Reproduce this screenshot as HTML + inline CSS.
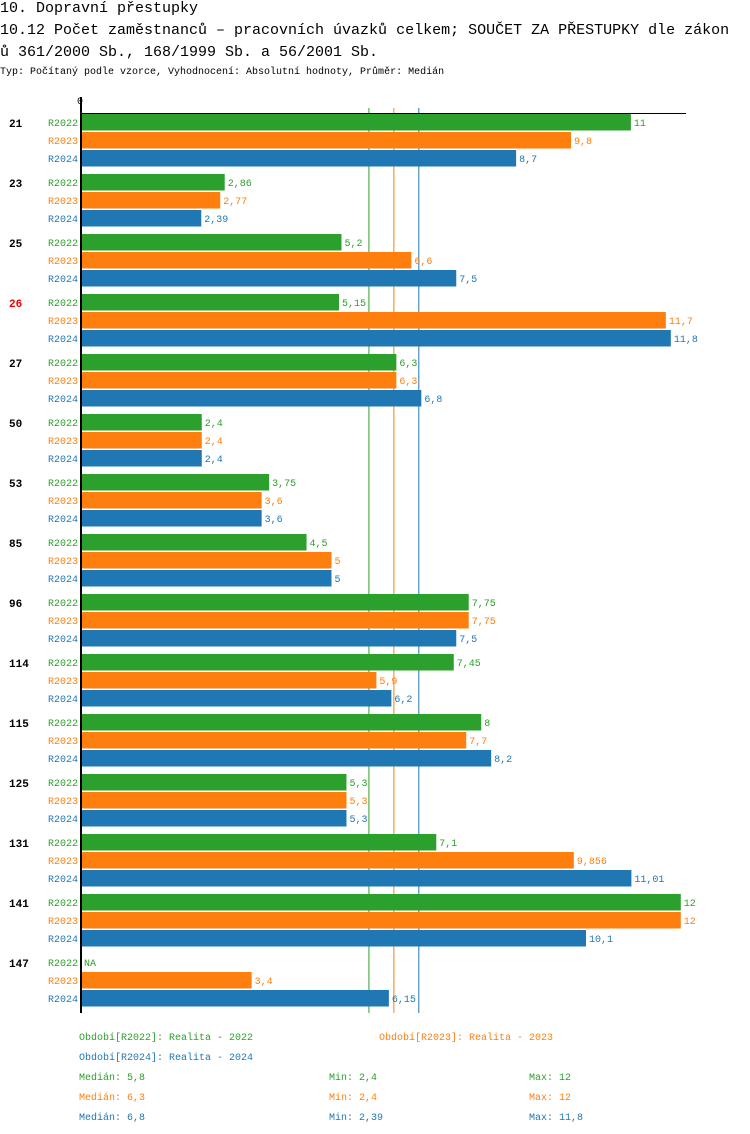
<!DOCTYPE html>
<html><head><meta charset="utf-8"><style>
body{margin:0;background:#fff;width:750px;height:1134px;overflow:hidden;font-family:"Liberation Mono","DejaVu Sans Mono",monospace}
.t{position:absolute;left:0;white-space:nowrap;font-size:15px;color:#000}
svg{position:absolute;left:0;top:0}
</style></head><body>
<div class="t" style="top:0px">10. Dopravní přestupky</div>
<div class="t" style="top:22px">10.12 Počet zaměstnanců – pracovních úvazků celkem; SOUČET ZA PŘESTUPKY dle zákon</div>
<div class="t" style="top:44px">ů 361/2000 Sb., 168/1999 Sb. a 56/2001 Sb.</div>
<div class="t" style="top:67px;font-size:10px">Typ: Počítaný podle vzorce, Vyhodnocení: Absolutní hodnoty, Průměr: Medián</div>
<svg id="c" width="750" height="1134"></svg>
<script>
const categories=["21","23","25","26","27","50","53","85","96","114","115","125","131","141","147"];
const highlighted=["26"];
const series=["R2022","R2023","R2024"];
const v2022=[11,2.86,5.2,5.15,6.3,2.4,3.75,4.5,7.75,7.45,8,5.3,7.1,12,null];
const v2023=[9.8,2.77,6.6,11.7,6.3,2.4,3.6,5,7.75,5.9,7.7,5.3,9.856,12,3.4];
const v2024=[8.7,2.39,7.5,11.8,6.8,2.4,3.6,5,7.5,6.2,8.2,5.3,11.01,10.1,6.15];
const medians=[5.8,6.3,6.8];
const mins=[2.4,2.4,2.39];
const maxs=[12,12,11.8];
const colors=["#2ca02c","#ff7f0e","#1f77b4"];
const vals=[v2022,v2023,v2024];
const NS="http://www.w3.org/2000/svg",svg=document.getElementById('c');
const x=v=>82+v*49.9;
const gy=i=>114+i*60;
function el(t,a,txt){const e=document.createElementNS(NS,t);for(const k in a)e.setAttribute(k,a[k]);if(txt!=null)e.textContent=txt;svg.appendChild(e);return e;}
const fmt=v=>String(v).replace('.',',');
medians.forEach((m,s)=>{
 const l=el('line',{x1:x(m)-2.5,x2:x(m)-2.5,y1:108,y2:1013,stroke:colors[s],'stroke-width':1});
 
 
});
categories.forEach((c,i)=>{
 const t=el('text',{x:9,y:gy(i)+13,'font-size':11,'font-weight':'bold',fill:highlighted.includes(c)?'#e00':'#000','font-family':'Liberation Mono,monospace'},c);
 
 
 series.forEach((s,k)=>{
  const y=gy(i)+k*18;
  const lb=el('text',{x:78,y:y+12,'font-size':10,'text-anchor':'end',fill:colors[k],'font-family':'Liberation Mono,monospace'},s);
  
  
  const v=vals[k][i];
  if(v==null){const n=el('text',{x:84,y:y+12,'font-size':10,fill:colors[k],'font-family':'Liberation Mono,monospace'},'NA');return;}
  const r=el('rect',{x:82,y:y,width:x(v)-82,height:16.5,fill:colors[k]});
  
  
  const vt=el('text',{x:x(v)+3,y:y+12,'font-size':10,fill:colors[k],'font-family':'Liberation Mono,monospace'},fmt(v));
  
  
 });
});
const ax=el('line',{x1:81,x2:81,y1:97,y2:1013,stroke:'#000','stroke-width':2});


const tx=el('line',{x1:81,x2:686,y1:113.5,y2:113.5,stroke:'#000','stroke-width':1});


const z=el('text',{x:80,y:104,'font-size':10,'text-anchor':'middle','font-family':'Liberation Mono,monospace'},'0');


const leg=[["Období[R2022]: Realita - 2022",79,1040,0],["Období[R2023]: Realita - 2023",379,1040,1],["Období[R2024]: Realita - 2024",79,1060,2]];
leg.forEach(l=>{const t=el('text',{x:l[1],y:l[2],'font-size':10,fill:colors[l[3]],'font-family':'Liberation Mono,monospace'},l[0]);});
series.forEach((s,k)=>{
 const y=1080+k*20;
 [[79,'Medián: '+fmt(medians[k])],[329,'Min: '+fmt(mins[k])],[529,'Max: '+fmt(maxs[k])]].forEach(p=>{
  const t=el('text',{x:p[0],y:y,'font-size':10,fill:colors[k],'font-family':'Liberation Mono,monospace'},p[1]);
  
  
 });
});
</script>
</body></html>
